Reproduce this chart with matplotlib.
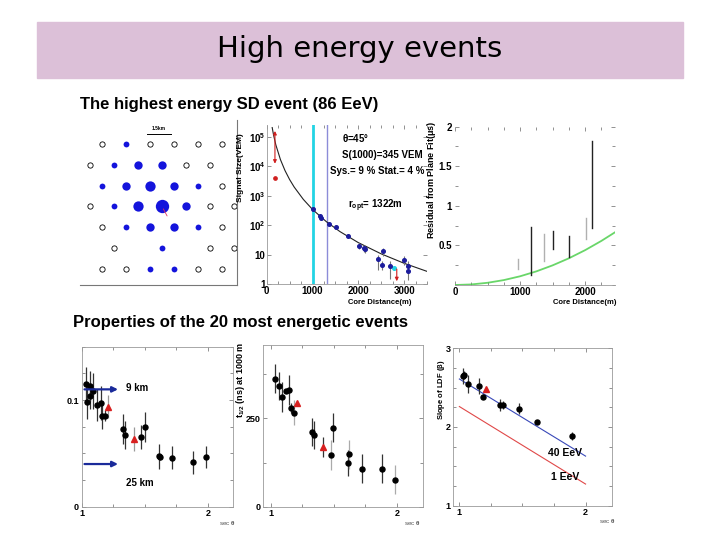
import numpy as np
import matplotlib
matplotlib.use('Agg')
from matplotlib import pyplot as plt
from matplotlib.patches import Rectangle

plt.rcParams['font.family'] = ['Liberation Sans', 'DejaVu Sans']
plt.rcParams['font.weight'] = 'bold'
plt.rcParams['mathtext.fontset'] = 'custom'
plt.rcParams['mathtext.rm'] = 'Liberation Sans:bold'
plt.rcParams['mathtext.it'] = 'Liberation Sans:bold'
plt.rcParams['mathtext.bf'] = 'Liberation Sans:bold'

# ---- detector map: signal class per station, row by row (-1 = no station, 0 = silent)
map_rows = [
    [0, 1, 0, 0, 0, 0],
    [0, 1, 2, 2, 0, 0],
    [1, 2, 3, 2, 1, 0],
    [0, 1, 3, 4, 2, 0, 0],
    [0, 1, 2, 2, 1, 0],
    [-1, 0, -1, 1, -1, 0, 0],
    [0, 0, 1, 1, 0, 0],
]
spacing_km = 1.5

# ---- lateral distribution
ldf_fit_r = [120, 150, 200, 300, 400, 500, 600, 800, 1000, 1300, 1600, 2000, 2500, 3000, 3500]
ldf_fit_s = [210000, 117000, 53900, 17100, 7220, 3590, 1990, 756, 345, 133, 60.6, 25.6, 10.6, 5.07, 2.69]
ldf_r = [1000, 1165, 1180, 1370, 1515, 1785, 2025, 2127, 2150, 2440, 2513, 2535, 2695, 2999, 3095, 3095]
ldf_s = [345, 200, 180, 112, 87, 42, 20, 17, 15, 7, 4.5, 13, 4, 6.7, 4.2, 2.7]
ldf_lo = [300, 170, 150, 98, 75, 36, 16, 12, 11, 3.0, 3.0, 9, 1.5, 4.5, 2.2, 1.4]
ldf_hi = [390, 225, 210, 126, 100, 49, 25, 22, 20, 10, 6, 17, 6, 9, 6.0, 4.0]
r_1000 = 1000
r_opt = 1322
sat_r = 180
sat_lo, sat_hi = 10000, 200000
sat_s = 4000
lim_r, lim_s = 2840, 4.0
cyan_r, cyan_s = 2782, 3.5

# ---- residual from plane fit
res_curve_r = [0, 250, 500, 750, 1000, 1250, 1500, 1750, 2000, 2250, 2460]
res_curve_y = [0, 0.007, 0.028, 0.062, 0.11, 0.172, 0.248, 0.337, 0.44, 0.557, 0.666]
res_r = [974, 1169, 1369, 1503, 1759, 2010, 2103]
res_lo = [0.20, 0.13, 0.30, 0.45, 0.35, 0.58, 0.72]
res_hi = [0.33, 0.73, 0.65, 0.68, 0.62, 0.85, 1.82]
res_dark = [False, True, False, True, True, False, True]

# ---- 20 most energetic events (sec theta)
curv_x = [1.032, 1.039, 1.066, 1.066, 1.087, 1.118, 1.150, 1.158, 1.184, 1.324, 1.345,
          1.474, 1.500, 1.613, 1.618, 1.716, 1.882, 1.982]
curv_y = [0.1154, 0.0984, 0.1132, 0.1038, 0.1085, 0.0950, 0.0969, 0.0855, 0.0855, 0.0730, 0.0673,
          0.0654, 0.0745, 0.0472, 0.0465, 0.0459, 0.0415, 0.0465]
curv_err = [0.016, 0.016, 0.014, 0.012, 0.017, 0.015, 0.016, 0.013, 0.005, 0.014, 0.013,
            0.011, 0.014, 0.012, 0.003, 0.011, 0.011, 0.010]
curv_red_x = [1.205, 1.413]
curv_red_y = [0.0937, 0.0635]
curv_red_err = [0.011, 0.011]
curv_9km = 0.110
curv_25km = 0.040

rise_x = [1.034, 1.066, 1.087, 1.119, 1.148, 1.161, 1.185, 1.325, 1.344, 1.476, 1.497,
          1.611, 1.619, 1.720, 1.886, 1.984]
rise_y = [363, 341, 311, 327, 330, 280, 266, 212, 203, 146, 224, 124, 148, 108, 108, 77]
rise_err = [42, 40, 42, 0, 42, 15, 35, 40, 40, 42, 40, 38, 40, 42, 40, 42]
rise_gray = [False, False, False, False, False, False, True, False, False, True, False,
             False, True, False, False, True]
rise_red_x = [1.206, 1.413]
rise_red_y = [295, 170]
rise_red_err = [0, 28]

beta_x = [1.032, 1.037, 1.069, 1.158, 1.185, 1.322, 1.348, 1.475, 1.617, 1.889]
beta_y = [2.648, 2.661, 2.547, 2.525, 2.386, 2.280, 2.280, 2.229, 2.064, 1.886]
beta_err = [0.10, 0.05, 0.11, 0.10, 0.03, 0.08, 0.05, 0.07, 0.03, 0.05]
beta_red_x = [1.208]
beta_red_y = [2.479]
line_x = [1.0, 2.0]
line_40eev = [2.61, 1.63]
line_1eev = [2.26, 1.275]

W, H = 720, 540
fig = plt.figure(figsize=(7.2, 5.4), dpi=100)


def box(x0, y0, x1, y1):
    return fig.add_axes([x0 / W, 1 - y1 / H, (x1 - x0) / W, (y1 - y0) / H])


def ftext(x, y, s, **kw):
    fig.text(x / W, 1 - y / H, s, **kw)


def frame(ax):
    for s in ax.spines.values():
        s.set_color('#9a9a9a')
        s.set_linewidth(0.6)
    ax.tick_params(which='both', direction='in', top=True, right=True,
                   labelsize=6.5, width=0.5, color='#666666', pad=2)
    ax.tick_params(which='major', length=3)
    ax.tick_params(which='minor', length=2)
    ax.set_facecolor('none')


# title band
fig.patches.append(Rectangle((37 / W, 1 - 78 / H), (683 - 37) / W, 56 / H,
                             transform=fig.transFigure, color='#dcc0d8', zorder=0))
ftext(360, 49, 'High energy events', ha='center', va='center', fontsize=21,
      family='DejaVu Sans', fontweight='normal')
ftext(80, 105, 'The highest energy SD event (86 EeV)', va='center', fontsize=12)
ftext(73, 322, 'Properties of the 20 most energetic events', va='center', fontsize=12)

# ---- detector map
ax = box(80, 120, 237, 285)
ax.set_xlim(-1.375, 8.4375)
ax.set_ylim(-8.8125, 1.5)
for name in ['top', 'left']:
    ax.spines[name].set_visible(False)
for name in ['bottom', 'right']:
    ax.spines[name].set_color('#777777')
    ax.spines[name].set_linewidth(0.8)
ax.set_xticks([])
ax.set_yticks([])
sizes = {1: 4.2, 2: 6.0, 3: 7.4, 4: 9.6}
for r, row in enumerate(map_rows):
    x0 = 0 if r % 2 == 0 else -spacing_km / 2
    for k, v in enumerate(row):
        if v < 0:
            continue
        x = x0 + spacing_km * k
        y = -1.3 * r
        if v == 0:
            ax.plot(x, y, 'o', ms=3.8, mfc='white', mec='black', mew=0.6)
        else:
            ax.plot(x, y, 'o', ms=sizes[v], color='#1414dc', mew=0)
ax.plot([2.8, 2.8 + spacing_km], [0.65, 0.65], color='black', lw=0.7)
ax.text(3.55, 0.8, '1.5km', fontsize=3.5, ha='center', va='bottom')
ax.annotate('', xy=(4.15, -4.65), xytext=(3.75, -3.9),
            arrowprops=dict(arrowstyle='-', color='#e03060', lw=0.6))

# ---- LDF
ax = box(266.7, 125, 427, 284)
frame(ax)
ax.set_yscale('log')
ax.set_xlim(0, 3500)
ax.set_ylim(1, 10 ** 5.41)
ax.set_xticks([0, 1000, 2000, 3000])
ax.set_xticks(np.arange(0, 3501, 250), minor=True)
ax.set_yticks([1, 10, 100, 1000, 1e4, 1e5])
ax.set_yticklabels(['1', '10', r'$10^{2}$', r'$10^{3}$', r'$10^{4}$', r'$10^{5}$'], fontsize=7)
ax.yaxis.set_minor_locator(matplotlib.ticker.NullLocator())
ax.tick_params(axis='x', labelsize=7, pad=1.5)
ax.tick_params(axis='y', pad=1)
ax.spines['top'].set_visible(False)
ax.spines['right'].set_visible(False)
ax.axvline(r_1000, color='#22d4e4', lw=2)
ax.axvline(r_opt, color='#8c8cd8', lw=1)
ax.plot(ldf_fit_r, ldf_fit_s, color='#222222', lw=0.8)
s = np.array(ldf_s)
ax.errorbar(ldf_r, ldf_s, yerr=[s - np.array(ldf_lo), np.array(ldf_hi) - s], fmt='o',
            ms=2.6, color='#1c1c9c', ecolor='#777777', elinewidth=0.8, capsize=0)
ax.plot(cyan_r, cyan_s, 'o', ms=2.6, color='#22d4e4')
ax.annotate('', xy=(sat_r, sat_hi), xytext=(sat_r, sat_lo),
            arrowprops=dict(arrowstyle='<|-|>', color='#d02020', lw=0.8, mutation_scale=5))
ax.plot(sat_r, sat_s, 'o', ms=2.4, color='#d02020')
ax.annotate('', xy=(lim_r, 1.0), xytext=(lim_r, lim_s),
            arrowprops=dict(arrowstyle='-|>', color='#d02020', lw=0.8, mutation_scale=5))
ftext(342, 138, r'$\theta$=45$\degree$', fontsize=7, va='center')
ftext(342, 155, 'S(1000)=345 VEM', fontsize=7, va='center')
ftext(330, 171, 'Sys.= 9 % Stat.= 4 %', fontsize=7, va='center')
ftext(348, 206, r'r$_{opt}$= 1322m', fontsize=7, va='center')
ftext(241, 168, 'Signal Size(VEM)', rotation=90, fontsize=6, ha='center', va='center')
ftext(380, 302, 'Core Distance(m)', fontsize=5.5, ha='center', va='center')

# ---- residual from plane fit
ax = box(455, 126.7, 615, 285)
frame(ax)
ax.set_xlim(0, 2460)
ax.set_ylim(0, 2)
ax.set_xticks([0, 1000, 2000])
ax.set_xticks(np.arange(0, 2460, 250), minor=True)
ax.set_yticks([0.5, 1, 1.5, 2])
ax.set_yticklabels(['0.5', '1', '1.5', '2'])
ax.set_yticks(np.arange(0, 2.01, 0.25), minor=True)
ax.tick_params(labelsize=7)
ax.tick_params(axis='x', pad=1.5)
ax.spines['top'].set_visible(False)
ax.spines['right'].set_visible(False)
ax.spines['left'].set_visible(False)
ax.plot(res_curve_r, res_curve_y, color='#44cc44', lw=1.3, alpha=0.8)
for r, lo, hi, dark in zip(res_r, res_lo, res_hi, res_dark):
    ax.plot([r, r], [lo, hi], color='#222222' if dark else '#b0b0b0', lw=1.0)
ftext(432, 180, r'Residual from Plane Fit($\mu$s)', rotation=90, fontsize=6.5, ha='center', va='center')
ftext(585, 302, 'Core Distance(m)', fontsize=5.5, ha='center', va='center')

# ---- curvature vs sec theta
ax = box(81.7, 346.7, 233, 506.7)
frame(ax)
ax.set_xlim(1, 2.2)
ax.set_ylim(0, 0.15)
ax.set_xticks([1, 2])
ax.set_xticks(np.arange(1, 2.21, 0.25), minor=True)
ax.set_yticks([0, 0.1])
ax.set_yticklabels(['0', '0.1'])
ax.set_yticks(np.arange(0, 0.151, 0.025), minor=True)
ax.errorbar(curv_x, curv_y, yerr=curv_err, fmt='o', ms=3.6, color='black',
            ecolor='#333333', elinewidth=0.9, capsize=0)
ax.errorbar(curv_red_x, curv_red_y, yerr=curv_red_err, fmt='^', ms=4.2, color='#d82020',
            ecolor='#999999', elinewidth=0.9, capsize=0)
for yv in [curv_9km, curv_25km]:
    ax.annotate('', xy=(1.31, yv), xytext=(1.0, yv),
                arrowprops=dict(arrowstyle='-|>', color='#1a2a9a', lw=1.6, mutation_scale=8))
ax.text(1.35, curv_9km + 0.001, '9 km', fontsize=7, va='center')
ax.text(1.355, 0.022, '25 km', fontsize=7, va='center')
ftext(227, 523, r'sec $\theta$', fontsize=4.5, color='#555555', ha='center', va='center',
      fontweight='normal')

# ---- rise time vs sec theta
ax = box(263.3, 345, 422.7, 506.7)
frame(ax)
ax.set_xlim(0.94, 2.206)
ax.set_ylim(0, 458)
ax.set_xticks([1, 2])
ax.set_xticks(np.arange(1, 2.21, 0.25), minor=True)
ax.set_yticks([0, 250])
ax.set_yticks(np.arange(0, 458, 125), minor=True)
for x, y, e, g in zip(rise_x, rise_y, rise_err, rise_gray):
    ax.errorbar(x, y, yerr=e, fmt='o', ms=3.6, color='black',
                ecolor='#aaaaaa' if g else '#333333', elinewidth=0.9, capsize=0)
ax.errorbar(rise_red_x, rise_red_y, yerr=rise_red_err, fmt='^', ms=4.2, color='#d82020',
            ecolor='#333333', elinewidth=0.9, capsize=0)
ftext(241, 380, r't$_{1/2}$ (ns) at 1000 m', rotation=90, fontsize=6.5, ha='center', va='center')
ftext(412, 523, r'sec $\theta$', fontsize=4.5, color='#555555', ha='center', va='center',
      fontweight='normal')

# ---- slope of LDF vs sec theta
ax = box(453.3, 348.3, 611.7, 505.7)
frame(ax)
ax.set_xlim(0.952, 2.207)
ax.set_ylim(1, 3)
ax.set_xticks([1, 2])
ax.set_xticks(np.arange(1, 2.21, 0.25), minor=True)
ax.set_yticks([1, 2, 3])
ax.set_yticks(np.arange(1, 3.01, 0.25), minor=True)
ax.plot(line_x, line_40eev, color='#3848b8', lw=0.8)
ax.plot(line_x, line_1eev, color='#e04848', lw=0.8)
ax.errorbar(beta_x, beta_y, yerr=beta_err, fmt='o', ms=3.6, color='black',
            ecolor='#333333', elinewidth=0.9, capsize=0)
ax.plot(beta_red_x, beta_red_y, '^', ms=4.2, color='#d82020')
ax.text(1.70, 1.67, '40 EeV', fontsize=7.5, va='center')
ax.text(1.73, 1.36, '1 EeV', fontsize=7.5, va='center')
ftext(441, 390, r'Slope of LDF ($\beta$)', rotation=90, fontsize=5.5, ha='center', va='center')
ftext(607, 521, r'sec $\theta$', fontsize=4.5, color='#555555', ha='center', va='center',
      fontweight='normal')

fig.savefig('out.png', dpi=100)
